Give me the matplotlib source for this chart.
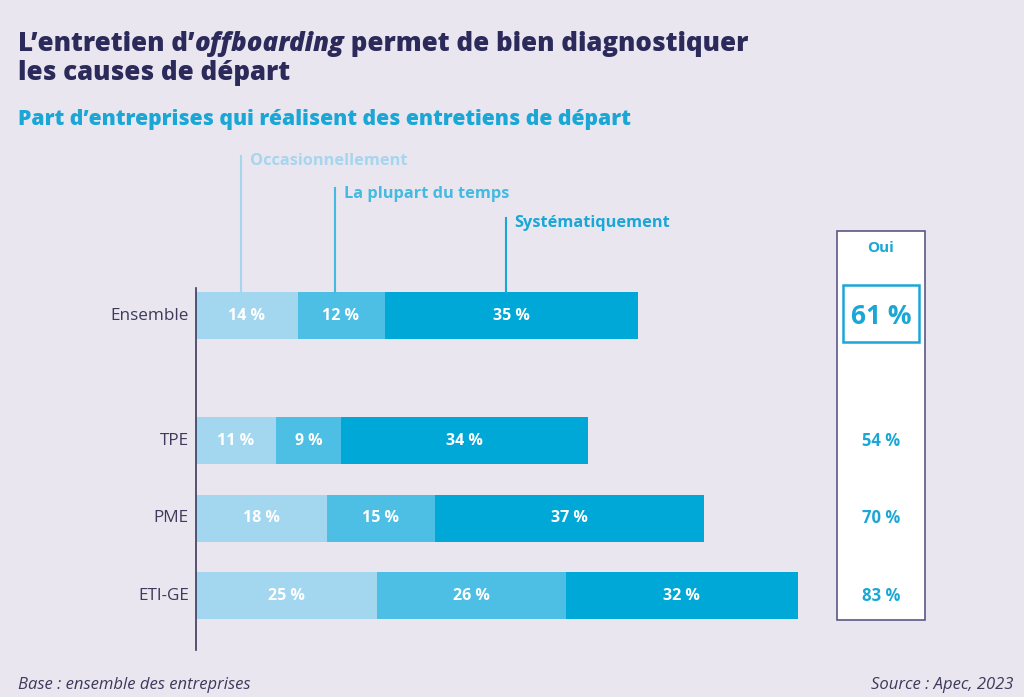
import matplotlib.pyplot as plt
from matplotlib.patches import Rectangle

plt.rcParams['font.family'] = ['Open Sans', 'DejaVu Sans']

categories = ["Ensemble", "TPE", "PME", "ETI-GE"]
occasionnellement = [14, 11, 18, 25]
plupart = [12, 9, 15, 26]
systematiquement = [35, 34, 37, 32]
oui = [61, 54, 70, 83]
series_names = ["Occasionnellement", "La plupart du temps", "Systématiquement"]

BG = "#E9E6F0"
DARK = "#2B2A5A"
GREY = "#3D3A5C"
CYAN = "#1AA7D6"
colors = ["#A3D7EF", "#4DBFE4", "#00A8D8"]
label_colors = ["#A6D6EE", "#45BAE0", "#1AA7D6"]

W, H = 1024, 697
fig = plt.figure(figsize=(W / 100, H / 100), dpi=100, facecolor=BG)


def fx(x):
    return x / W


def fy(y):
    return 1 - y / H


# bars axes: left edge at px 196, 7.25 px per %
x0, x1 = 196, 830
y0, y1 = 150, 650
ax = fig.add_axes([fx(x0), fy(y1), (x1 - x0) / W, (y1 - y0) / H])
ax.set_facecolor("none")
ax.set_xlim(0, (x1 - x0) / 7.25)
unit = 77.5
ypos = [0, 1.613, 2.61, 3.61]
ax.set_ylim(4.31, 4.31 - (y1 - y0) / unit)
for s in ax.spines.values():
    s.set_visible(False)
ax.set_xticks([])
ax.set_yticks([])

bh = 47 / unit
left = [0] * len(categories)
for vals, c in zip([occasionnellement, plupart, systematiquement], colors):
    bars = ax.barh(ypos, vals, left=left, height=bh, color=c, edgecolor="none")
    for b, v in zip(bars, vals):
        ax.text(b.get_x() + b.get_width() / 2, b.get_y() + b.get_height() / 2,
                f"{v} %", ha="center", va="center", color="white",
                fontsize=11.5, fontweight="bold")
    left = [l + v for l, v in zip(left, vals)]

# category labels and left axis line
for y, cat in zip(ypos, categories):
    ax.text(-1.0, y, cat, ha="right", va="center", color=GREY, fontsize=12.3)
ax.plot([0, 0], [-0.36, 4.31], color=GREY, lw=1.2, clip_on=False)

# leader lines for the series legend
starts = [0, occasionnellement[0], occasionnellement[0] + plupart[0]]
widths = [occasionnellement[0], plupart[0], systematiquement[0]]
tops = [-2.07, -1.65, -1.27]
for st, w, top, name, c in zip(starts, widths, tops, series_names, label_colors):
    xm = st + w / 2 - 0.8
    ax.plot([xm, xm], [top, -bh / 2], color=c, lw=1.5, clip_on=False)
    ax.text(xm + 1.2, top + 0.07, name, ha="left", va="center", color=c,
            fontsize=11.8, fontweight="bold")

# "Oui" column
fig.patches.append(Rectangle((fx(837), fy(620)), (925 - 837) / W, (620 - 231) / H,
                             transform=fig.transFigure, facecolor="white",
                             edgecolor="#5C5884", lw=1.2))
fig.patches.append(Rectangle((fx(843), fy(342)), (919 - 843) / W, (342 - 285) / H,
                             transform=fig.transFigure, facecolor="none",
                             edgecolor=CYAN, lw=1.8))
fig.text(fx(881), fy(248), "Oui", ha="center", va="center", color=CYAN,
         fontsize=11, fontweight="bold")
for i, (y, v) in enumerate(zip(ypos, oui)):
    ypix = y0 + (y + 2.142) * unit
    fig.text(fx(881), fy(ypix), f"{v} %", ha="center", va="center", color=CYAN,
             fontsize=19 if i == 0 else 12, fontweight="bold")

# title with italic word
renderer = fig.canvas.get_renderer()
parts = [("L\u2019entretien d\u2019", "normal"), ("offboarding", "italic"),
         (" permet de bien diagnostiquer", "normal")]
xcur = 18
for txt, style in parts:
    t = fig.text(fx(xcur), fy(51), txt, ha="left", va="baseline", color=DARK,
                 fontsize=18.6, fontweight="heavy", fontstyle=style)
    xcur += t.get_window_extent(renderer).width
fig.text(fx(18), fy(80), "les causes de départ", ha="left", va="baseline",
         color=DARK, fontsize=18.6, fontweight="heavy")
fig.text(fx(18), fy(125), "Part d\u2019entreprises qui réalisent des entretiens de départ",
         ha="left", va="baseline", color=CYAN, fontsize=15.2, fontweight="heavy")

# footer
fig.text(fx(18), fy(685), "Base : ensemble des entreprises", ha="left", va="center",
         color=GREY, fontsize=12, fontstyle="italic")
fig.text(fx(1013), fy(685), "Source : Apec, 2023", ha="right", va="center",
         color=GREY, fontsize=12, fontstyle="italic")

fig.savefig("out.png", dpi=100, facecolor=BG)
